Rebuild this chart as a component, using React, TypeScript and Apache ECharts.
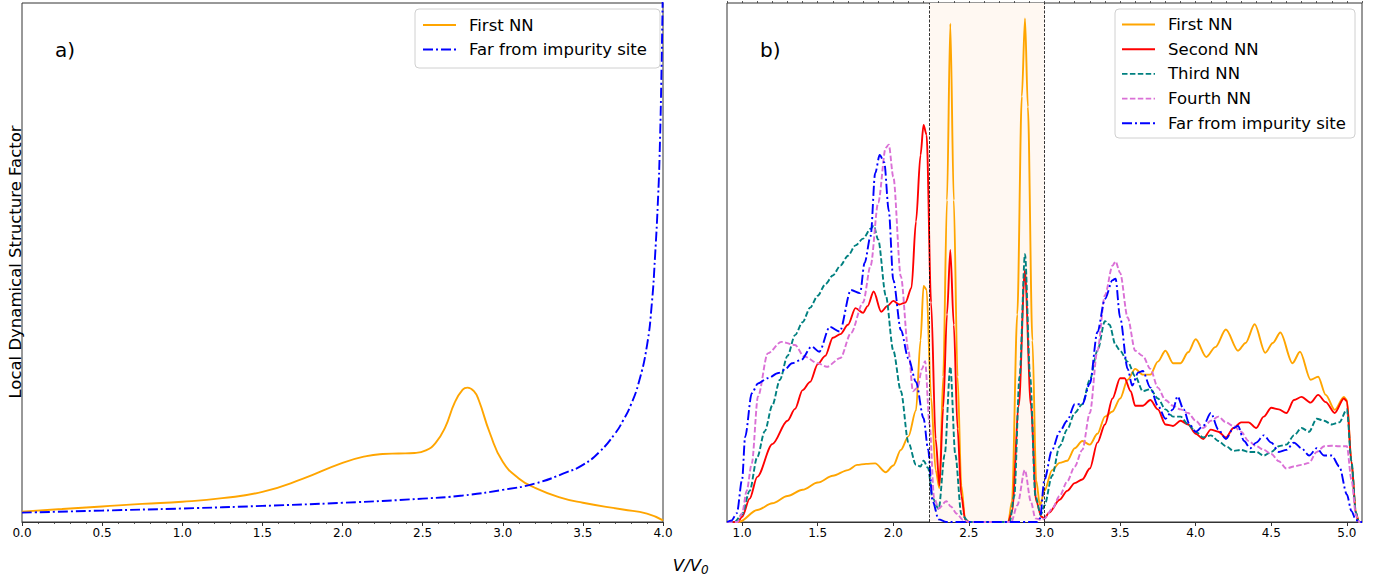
import React, { useEffect, useRef } from "react";
import * as echarts from "echarts";

// ---------- DATA (x = V/V0, y = arbitrary units, 0..100 of plot height) ----------
// Panel a)
const aFirstNN: [number, number][] = [
  [0, 2.0], [0.25, 2.5], [0.5, 3.0], [0.75, 3.5], [1.0, 3.9], [1.25, 4.6], [1.5, 5.8], [1.75, 8.3],
  [2.0, 11.4], [2.15, 12.7], [2.25, 13.1], [2.35, 13.2], [2.45, 13.3], [2.52, 13.8], [2.58, 15.2],
  [2.64, 18.2], [2.7, 23.0], [2.75, 25.5], [2.78, 25.9], [2.82, 25.2], [2.85, 23.5], [2.92, 17.1],
  [3.0, 11.6], [3.1, 8.4], [3.2, 6.6], [3.35, 4.8], [3.5, 3.7], [3.75, 2.4], [3.9, 1.6], [4.0, 0.3],
];
const aFar: [number, number][] = [
  [0, 1.8], [0.5, 2.2], [1.0, 2.6], [1.5, 3.1], [2.0, 3.7], [2.5, 4.5], [2.75, 5.1], [3.0, 6.2],
  [3.2, 7.4], [3.4, 9.6], [3.5, 11.0], [3.6, 13.4], [3.7, 17.0], [3.75, 19.5], [3.8, 22.6],
  [3.85, 27.0], [3.9, 34.0], [3.93, 42.0], [3.95, 51.0], [3.97, 63.0], [3.98, 72.0], [3.99, 86.0],
  [4.0, 105.0],
];

// Panel b)
const bFirstNN: [number, number][] = [
  [0.9, 0], [0.98, 0], [1.1, 2.3], [1.2, 3.6], [1.3, 5.0], [1.4, 6.2], [1.5, 7.6], [1.6, 8.9],
  [1.7, 10.0], [1.76, 11.0], [1.82, 11.2], [1.88, 11.3], [1.95, 9.6], [2.0, 10.9], [2.05, 13.9],
  [2.1, 16.5], [2.15, 21.5], [2.18, 35], [2.2, 45.5], [2.22, 44.8], [2.25, 24], [2.28, 10],
  [2.305, 6.5], [2.33, 28], [2.355, 62], [2.377, 96], [2.4, 62], [2.425, 28], [2.45, 7],
  [2.475, 0.5], [2.5, 0], [2.76, 0], [2.785, 4], [2.82, 40], [2.85, 82], [2.871, 97], [2.89, 80],
  [2.92, 35], [2.945, 8], [2.97, 3.2], [3.0, 6], [3.05, 10], [3.1, 11.4], [3.15, 11.8], [3.2, 14.2],
  [3.25, 15.6], [3.3, 14.9], [3.35, 17], [3.4, 20.3], [3.45, 21.3], [3.5, 23.8], [3.55, 27.4],
  [3.6, 29.5], [3.65, 28.4], [3.7, 28.4], [3.75, 30.9], [3.8, 33], [3.85, 30.6], [3.9, 30.6],
  [3.95, 32.7], [4.0, 35.2], [4.07, 31.8], [4.13, 33.7], [4.2, 37.1], [4.28, 33.0], [4.33, 34.5],
  [4.39, 38.1], [4.46, 32.6], [4.51, 34.5], [4.56, 36.5], [4.64, 30.6], [4.69, 32.8], [4.76, 27.4],
  [4.81, 28.0], [4.86, 24.5], [4.92, 21.6], [4.98, 24.1], [5.0, 23.5], [5.03, 11.7], [5.06, 1.8],
  [5.08, 0], [5.1, 0],
];
const bSecondNN: [number, number][] = [
  [0.9, 0], [0.97, 0], [1.0, 1.0], [1.05, 4.5], [1.1, 8.7], [1.2, 15.0], [1.3, 19.5], [1.35, 21.8],
  [1.4, 25.4], [1.45, 27], [1.5, 30.4], [1.55, 32], [1.6, 35.5], [1.65, 36.2], [1.7, 38],
  [1.75, 41.2], [1.8, 40.3], [1.83, 41.6], [1.87, 44.4], [1.92, 40.5], [1.96, 41.6], [2.0, 42.6],
  [2.04, 41.9], [2.08, 42.3], [2.12, 45.1], [2.15, 57.9], [2.18, 70.7], [2.2, 76.5], [2.22, 74.6],
  [2.25, 42.3], [2.28, 16], [2.305, 7], [2.33, 22], [2.355, 40], [2.377, 52.4], [2.4, 38],
  [2.425, 18], [2.45, 5], [2.475, 0.5], [2.5, 0], [2.76, 0], [2.785, 2], [2.83, 22.4], [2.87, 48.5],
  [2.91, 22.4], [2.945, 4], [2.98, 1], [3.0, 0.7], [3.03, 1.8], [3.1, 4.3], [3.15, 6], [3.2, 7.5],
  [3.25, 8.2], [3.3, 10.3], [3.35, 15.3], [3.4, 18.8], [3.45, 23.8], [3.5, 27.7], [3.53, 27.7],
  [3.57, 25.2], [3.6, 22.4], [3.65, 22.4], [3.7, 23.5], [3.75, 21.7], [3.8, 18.8], [3.85, 18.5],
  [3.9, 19.5], [3.95, 18.8], [4.0, 17], [4.05, 16], [4.1, 17.8], [4.15, 17.4], [4.2, 16.3],
  [4.25, 18.1], [4.3, 19.2], [4.35, 19.2], [4.4, 18.1], [4.45, 20.3], [4.5, 22], [4.55, 21.7],
  [4.6, 21], [4.65, 23.5], [4.7, 24.1], [4.76, 23], [4.81, 24.5], [4.86, 23.1], [4.92, 21],
  [4.98, 23.8], [5.0, 23.3], [5.03, 11.7], [5.06, 1.4], [5.08, 0], [5.1, 0],
];
const bThirdNN: [number, number][] = [
  [0.9, 0], [0.95, 0], [1.0, 1.5], [1.05, 6], [1.1, 12.5], [1.15, 17.5], [1.2, 22.5], [1.25, 27.4],
  [1.3, 32], [1.35, 36], [1.4, 38.5], [1.45, 41.3], [1.5, 43.6], [1.55, 45.8], [1.6, 47.5],
  [1.65, 49.4], [1.7, 51.3], [1.75, 53.3], [1.8, 54.6], [1.85, 56.5], [1.87, 57.1], [1.9, 54.4],
  [1.95, 43.7], [2.0, 33], [2.05, 25.2], [2.1, 15.3], [2.15, 11], [2.18, 10.7], [2.2, 11.8],
  [2.23, 10.4], [2.26, 4.6], [2.3, 2.5], [2.34, 13], [2.377, 29.9], [2.41, 13], [2.45, 1.5],
  [2.5, 0], [2.77, 0], [2.8, 5], [2.835, 28], [2.871, 51.6], [2.905, 28], [2.94, 5], [2.975, 1.4],
  [3.0, 3.2], [3.05, 8.9], [3.1, 14.6], [3.15, 17.8], [3.2, 21], [3.25, 22.7], [3.3, 27.4],
  [3.35, 33], [3.4, 38.7], [3.43, 38], [3.47, 34.1], [3.5, 33], [3.55, 30.9], [3.6, 28.1],
  [3.65, 25.2], [3.7, 25.6], [3.75, 23.8], [3.8, 21.7], [3.85, 20.3], [3.9, 20.3], [3.95, 18.8],
  [4.0, 17.4], [4.05, 16.3], [4.1, 16.7], [4.15, 15.6], [4.2, 14.6], [4.25, 13.7], [4.3, 13.9],
  [4.35, 13.5], [4.4, 13.5], [4.45, 12.8], [4.5, 13.5], [4.55, 14.6], [4.6, 14.9], [4.65, 16.7],
  [4.7, 18.1], [4.75, 17.4], [4.8, 19.9], [4.85, 19.5], [4.9, 18.8], [4.95, 19.2], [5.0, 21.7],
  [5.03, 11.7], [5.06, 1.8], [5.08, 0], [5.1, 0],
];
const bFourthNN: [number, number][] = [
  [0.9, 0], [0.97, 0], [1.0, 1.7], [1.03, 6], [1.064, 11.3], [1.105, 24.2], [1.17, 32.5],
  [1.26, 34.7], [1.35, 34.1], [1.41, 31.9], [1.5, 30.6], [1.56, 29.9], [1.65, 31.6], [1.72, 36.4],
  [1.8, 42.3], [1.85, 49.4], [1.9, 61.5], [1.95, 72.1], [1.97, 72.7], [2.0, 66.5], [2.05, 47.3],
  [2.1, 33], [2.13, 25.2], [2.16, 25.9], [2.19, 29.5], [2.21, 31], [2.24, 18.8], [2.27, 4.6],
  [2.3, 2.6], [2.35, 4], [2.38, 3], [2.42, 1.6], [2.46, 0.4], [2.5, 0], [2.78, 0], [2.82, 3.2],
  [2.87, 10], [2.91, 3.9], [2.94, 0.7], [2.98, 0.4], [3.0, 0.7], [3.05, 2.5], [3.1, 5], [3.15, 7.8],
  [3.2, 10.7], [3.25, 13.9], [3.3, 21], [3.35, 33], [3.4, 43.7], [3.45, 49.4], [3.47, 50.2],
  [3.5, 48], [3.55, 39.4], [3.6, 33], [3.65, 32], [3.7, 29.5], [3.75, 25.9], [3.8, 23.5],
  [3.85, 22.4], [3.9, 21.7], [3.95, 21], [4.0, 19.5], [4.05, 18.1], [4.1, 19.5], [4.15, 20.3],
  [4.2, 19.2], [4.25, 18.5], [4.3, 17.4], [4.35, 15.6], [4.4, 14.6], [4.45, 13.9], [4.5, 13.1],
  [4.55, 11.7], [4.6, 10.3], [4.65, 10.7], [4.7, 11], [4.75, 11.4], [4.8, 13.5], [4.85, 14.6],
  [4.9, 14.7], [4.95, 14.6], [5.0, 14.6], [5.03, 8.2], [5.06, 1.4], [5.08, 0], [5.1, 0],
];
const bFar: [number, number][] = [
  [0.9, 0], [0.93, 0.3], [0.965, 1.7], [1.0, 8.2], [1.02, 16.4], [1.064, 24.8], [1.105, 26.7],
  [1.17, 27.7], [1.24, 28.7], [1.28, 29.3], [1.33, 30.6], [1.39, 31.2], [1.46, 33.8], [1.51, 32.8],
  [1.58, 37.6], [1.645, 36.7], [1.72, 44.7], [1.78, 44.1], [1.81, 49.9], [1.85, 55.1], [1.88, 67.2],
  [1.91, 70.7], [1.94, 69.3], [1.97, 60], [2.0, 46.6], [2.05, 37], [2.1, 31.5], [2.15, 27],
  [2.2, 20], [2.23, 14], [2.26, 4], [2.3, 0.5], [2.35, 0], [2.95, 0], [2.97, 0.7], [3.0, 8.2],
  [3.05, 13.9], [3.1, 17.4], [3.15, 19.5], [3.2, 22.7], [3.25, 22.7], [3.3, 26.7], [3.35, 36.6],
  [3.4, 43], [3.45, 46.6], [3.47, 46.9], [3.5, 39.4], [3.55, 29.5], [3.58, 26.3], [3.62, 28.8],
  [3.65, 29.1], [3.7, 25.9], [3.75, 22.4], [3.8, 19.9], [3.85, 21.7], [3.88, 24.2], [3.92, 21.7],
  [3.96, 18.8], [4.0, 17.4], [4.05, 18.5], [4.1, 21], [4.15, 17.8], [4.2, 16], [4.25, 18.1],
  [4.28, 18.5], [4.32, 15.6], [4.36, 14.2], [4.4, 15.3], [4.45, 16.7], [4.5, 15.3], [4.55, 13.5],
  [4.6, 13.9], [4.65, 15.3], [4.7, 14.2], [4.75, 12.8], [4.8, 14.2], [4.85, 12.8], [4.9, 12.8],
  [4.95, 10.7], [5.0, 5.3], [5.03, 2.1], [5.06, 0.4], [5.08, 0], [5.1, 0],
];

const shadedRange = [2.24, 3.0];
const bMajorTicks = [1.0, 1.5, 2.0, 2.5, 3.0, 3.5, 4.0, 4.5, 5.0];
const bMinorTicks = [
  0.9, 1.0, 1.1, 1.2, 1.3, 1.4, 1.5, 1.6, 1.7, 1.8, 1.9, 2.0, 2.1, 2.2, 2.3, 2.4, 2.5, 2.6, 2.7,
  2.8, 2.9, 3.0, 3.1, 3.2, 3.3, 3.4, 3.5, 3.6, 3.7, 3.8, 3.9, 4.0, 4.1, 4.2, 4.3, 4.4, 4.5, 4.6,
  4.7, 4.8, 4.9, 5.0, 5.1,
];

const legendA = ["First NN", "Far from impurity site"];
const legendB = ["First NN", "Second NN", "Third NN", "Fourth NN", "Far from impurity site"];

// ---------- STYLES ----------
const FONT = '"DejaVu Sans", Verdana, sans-serif';
const ORANGE = "#ffa500";
const RED = "#ff0000";
const TEAL = "#008080";
const ORCHID = "#da70d6";
const BLUE = "#0000ff";
const LW = 1.9;
const DASH = [5.5, 2.4];
const DASHDOT = [10, 3, 2, 3];
const AXIS_COLOR = "#333";

type Sty = { color: string; dash: number[] | null };
const stylesA: Sty[] = [
  { color: ORANGE, dash: null },
  { color: BLUE, dash: DASHDOT },
];
const stylesB: Sty[] = [
  { color: ORANGE, dash: null },
  { color: RED, dash: null },
  { color: TEAL, dash: DASH },
  { color: ORCHID, dash: DASH },
  { color: BLUE, dash: DASHDOT },
];

function lineSeries(
  name: string,
  data: [number, number][],
  sty: Sty,
  grid: number,
  xIdx: number,
  smooth: number,
  monotone: boolean
) {
  return {
    type: "line",
    name,
    data,
    xAxisIndex: xIdx,
    yAxisIndex: grid,
    showSymbol: false,
    symbol: "none",
    smooth,
    smoothMonotone: monotone ? "x" : undefined,
    z: 3,
    silent: true,
    lineStyle: {
      color: sty.color,
      width: LW,
      type: sty.dash ? sty.dash : "solid",
    },
  };
}

function legendGraphics(
  names: string[],
  styles: Sty[],
  box: { x: number; y: number; w: number; h: number },
  lineX: number,
  textX: number,
  firstY: number,
  step: number
) {
  const els: any[] = [
    {
      type: "rect",
      shape: { x: box.x, y: box.y, width: box.w, height: box.h, r: 4 },
      style: { fill: "rgba(255,255,255,0.8)", stroke: "#d0d0d0", lineWidth: 1 },
      z: 100,
    },
  ];
  names.forEach((n, i) => {
    const y = firstY + i * step;
    els.push({
      type: "line",
      shape: { x1: lineX, y1: y, x2: lineX + 33, y2: y },
      style: {
        stroke: styles[i].color,
        lineWidth: LW,
        lineDash: styles[i].dash ? styles[i].dash : null,
      },
      z: 101,
    });
    els.push({
      type: "text",
      x: textX,
      y,
      style: {
        text: n,
        fill: "#000",
        font: `16.5px ${FONT}`,
        align: "left",
        verticalAlign: "middle",
      },
      z: 101,
    });
  });
  return els;
}

export default function App() {
  const ref = useRef<HTMLDivElement>(null);

  useEffect(() => {
    if (!ref.current) return;
    const chart = echarts.init(ref.current, null, { renderer: "svg" });

    const axisLabelStyle = {
      color: "#000",
      fontSize: 12,
      fontFamily: FONT,
      margin: 5,
    };

    const option: any = {
      animation: false,
      backgroundColor: "#fff",
      grid: [
        { left: 22, top: 3, width: 641, height: 519, show: true, borderColor: AXIS_COLOR, borderWidth: 1, backgroundColor: "transparent" },
        { left: 727, top: 3, width: 635, height: 519, show: true, borderColor: AXIS_COLOR, borderWidth: 1, backgroundColor: "transparent" },
      ],
      xAxis: [
        {
          gridIndex: 0,
          type: "value",
          min: 0,
          max: 4,
          interval: 0.5,
          axisLine: { show: true, onZero: false, lineStyle: { color: AXIS_COLOR, width: 1 } },
          axisTick: { show: true, length: 4, lineStyle: { color: AXIS_COLOR, width: 1 } },
          minorTick: { show: true, splitNumber: 5, length: 2, lineStyle: { color: AXIS_COLOR, width: 0.8 } },
          axisLabel: { ...axisLabelStyle, formatter: (v: number) => v.toFixed(1) },
          splitLine: { show: false },
          minorSplitLine: { show: false },
        },
        {
          gridIndex: 1,
          type: "value",
          min: 0.9,
          max: 5.1,
          axisLine: { show: true, onZero: false, lineStyle: { color: AXIS_COLOR, width: 1 } },
          axisTick: { show: true, length: 4, customValues: bMajorTicks, lineStyle: { color: AXIS_COLOR, width: 1 } },
          axisLabel: {
            ...axisLabelStyle,
            customValues: bMajorTicks,
            showMinLabel: true,
            showMaxLabel: true,
            formatter: (v: number) => v.toFixed(1),
          },
          splitLine: { show: false },
        },
        {
          gridIndex: 1,
          type: "value",
          min: 0.9,
          max: 5.1,
          axisLine: { show: false, onZero: false },
          axisTick: { show: true, length: 2, customValues: bMinorTicks, lineStyle: { color: AXIS_COLOR, width: 0.8 } },
          axisLabel: { show: false },
          splitLine: { show: false },
        },
      ],
      yAxis: [0, 1].map((g) => ({
        gridIndex: g,
        type: "value",
        min: 0,
        max: 100,
        axisLine: { show: false },
        axisTick: { show: false },
        axisLabel: { show: false },
        splitLine: { show: false },
      })),
      series: [
        lineSeries(legendA[0], aFirstNN, stylesA[0], 0, 0, 0.5, false),
        lineSeries(legendA[1], aFar, stylesA[1], 0, 0, 0.5, false),
        {
          type: "line",
          name: "shade",
          xAxisIndex: 1,
          yAxisIndex: 1,
          data: [],
          z: 1,
          silent: true,
          markArea: {
            silent: true,
            itemStyle: { color: "#fff8f2" },
            data: [[{ xAxis: shadedRange[0] }, { xAxis: shadedRange[1] }]],
          },
          markLine: {
            silent: true,
            symbol: "none",
            label: { show: false },
            lineStyle: { color: "#000", width: 0.8, type: [3, 1.5] },
            data: shadedRange.map((v) => ({ xAxis: v })),
          },
        },
        lineSeries(legendB[0], bFirstNN, stylesB[0], 1, 1, 0.3, true),
        lineSeries(legendB[1], bSecondNN, stylesB[1], 1, 1, 0.3, true),
        lineSeries(legendB[2], bThirdNN, stylesB[2], 1, 1, 0.3, true),
        lineSeries(legendB[3], bFourthNN, stylesB[3], 1, 1, 0.3, true),
        lineSeries(legendB[4], bFar, stylesB[4], 1, 1, 0.3, true),
      ],
      graphic: [
        {
          type: "text",
          x: 55,
          y: 50,
          style: { text: "a)", fill: "#000", font: `20px ${FONT}`, align: "left", verticalAlign: "middle" },
        },
        {
          type: "text",
          x: 760,
          y: 50,
          style: { text: "b)", fill: "#000", font: `20px ${FONT}`, align: "left", verticalAlign: "middle" },
        },
        {
          type: "text",
          x: 15,
          y: 262,
          rotation: Math.PI / 2,
          style: {
            text: "Local Dynamical Structure Factor",
            fill: "#000",
            font: `16.5px ${FONT}`,
            align: "center",
            verticalAlign: "middle",
          },
        },
        {
          type: "text",
          x: 701,
          y: 565,
          style: { text: "V/V", fill: "#000", font: `italic 16.5px ${FONT}`, align: "right", verticalAlign: "middle" },
        },
        {
          type: "text",
          x: 701,
          y: 570,
          style: { text: "0", fill: "#000", font: `italic 12px ${FONT}`, align: "left", verticalAlign: "middle" },
        },
        ...legendGraphics(legendA, stylesA, { x: 415, y: 9, w: 245, h: 59 }, 423, 469, 25, 24.5),
        ...legendGraphics(legendB, stylesB, { x: 1115, y: 9, w: 240, h: 129 }, 1122, 1168, 24.5, 24.7),
      ],
    };

    chart.setOption(option);
    return () => chart.dispose();
  }, []);

  return (
    <div
      ref={ref}
      style={{ position: "fixed", left: 0, top: 0, width: 1385, height: 579, background: "#fff" }}
    />
  );
}
